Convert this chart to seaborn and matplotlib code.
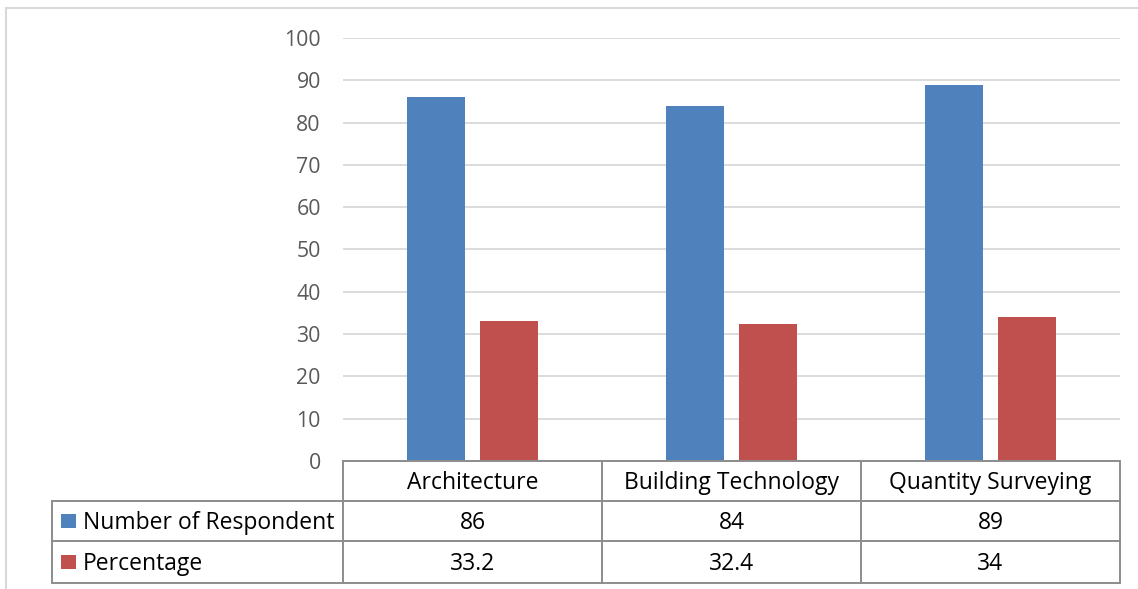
import matplotlib
matplotlib.use("Agg")
import matplotlib.pyplot as plt
import matplotlib.transforms as mtransforms
from matplotlib.lines import Line2D
from matplotlib.patches import Rectangle
import pandas as pd
import seaborn as sns

# Survey data
categories = ["Architecture", "Building Technology", "Quantity Surveying"]
series_names = ["Number of Respondent", "Percentage"]
respondents = [86, 84, 89]
percentages = [33.2, 32.4, 34]
respondent_labels = ["86", "84", "89"]
percentage_labels = ["33.2", "32.4", "34"]
y_ticks = [0, 10, 20, 30, 40, 50, 60, 70, 80, 90, 100]

colors = ["#4F81BD", "#C0504D"]

df = pd.DataFrame({
    "category": categories * 2,
    "series": [series_names[0]] * 3 + [series_names[1]] * 3,
    "value": respondents + percentages,
})

sns.set_theme(style="white")
plt.rcParams["font.family"] = ["Open Sans", "DejaVu Sans"]
FS_TABLE = 16.5
FS_TICK = 15.3

W, H = 1138, 589
fig = plt.figure(figsize=(W / 100, H / 100), dpi=100)
fig.patch.set_facecolor("white")

# plot area in pixel terms
left, right, top, bottom = 343, 1120, 38, 461
ax = fig.add_axes([left / W, 1 - bottom / H, (right - left) / W, (bottom - top) / H])

sns.barplot(data=df, x="category", y="value", hue="series", order=categories,
            hue_order=series_names, palette=colors, saturation=1,
            width=0.571, gap=0.216, legend=False, ax=ax, zorder=3,
            edgecolor="none", linewidth=0)

ax.set_xlim(-0.5, 2.5)
ax.set_ylim(0, 100)
ax.set_yticks(y_ticks)
ax.set_xticks([])
ax.set_xlabel("")
ax.set_ylabel("")
ax.tick_params(axis="y", length=0, pad=16, labelsize=FS_TICK, labelcolor="#595959")
ax.grid(axis="y", color="#D9D9D9", linewidth=1.3, zorder=0)
ax.set_axisbelow(True)
for s in ax.spines.values():
    s.set_visible(False)

# Data table below the plot
tr = mtransforms.blended_transform_factory(ax.transData, ax.transAxes)
ph = bottom - top
row_y = [0, -(501 - bottom) / ph, -(541 - bottom) / ph, -(583 - bottom) / ph]
x_left_table = (52 - left) / ((right - left) / 3) - 0.5
border = dict(color="#8C8C8C", linewidth=1.4, transform=tr, clip_on=False, zorder=5)

# horizontal lines
ax.add_line(Line2D([-0.5, 2.5], [row_y[0], row_y[0]], **border))
for yv in row_y[1:]:
    ax.add_line(Line2D([x_left_table, 2.5], [yv, yv], **border))
# vertical lines
for xv in [-0.5, 0.5, 1.5, 2.5]:
    ax.add_line(Line2D([xv, xv], [row_y[0], row_y[3]], **border))
ax.add_line(Line2D([x_left_table, x_left_table], [row_y[1], row_y[3]], **border))

# text sits slightly below the geometric centre of each cell
nudge = -2 / ph
txt = dict(transform=tr, ha="center", va="center", fontsize=FS_TABLE, color="black",
           clip_on=False)
for i, cat in enumerate(categories):
    ax.text(i, (row_y[0] + row_y[1]) / 2 + nudge, cat, **txt)
    ax.text(i, (row_y[1] + row_y[2]) / 2 + nudge, respondent_labels[i], **txt)
    ax.text(i, (row_y[2] + row_y[3]) / 2 + nudge, percentage_labels[i], **txt)

# series names with colour keys
for r, (name, col) in enumerate(zip(series_names, colors)):
    yc = (row_y[r + 1] + row_y[r + 2]) / 2
    yc_pix = bottom - yc * ph
    fig.patches.append(Rectangle((61 / W, 1 - (yc_pix + 7) / H), 15 / W, 14 / H,
                                 transform=fig.transFigure, facecolor=col,
                                 edgecolor="none", zorder=6))
    fig.text(83 / W, 1 - (yc_pix + 2) / H, name, ha="left", va="center",
             fontsize=FS_TABLE, color="black")

# chart frame
frame = dict(color="#D9D9D9", linewidth=1.5, transform=fig.transFigure)
fig.lines.append(Line2D([6 / W, 1], [1 - 8 / H, 1 - 8 / H], **frame))
fig.lines.append(Line2D([6 / W, 6 / W], [1 - 8 / H, 0], **frame))

fig.savefig("out.png", dpi=100, facecolor="white")
